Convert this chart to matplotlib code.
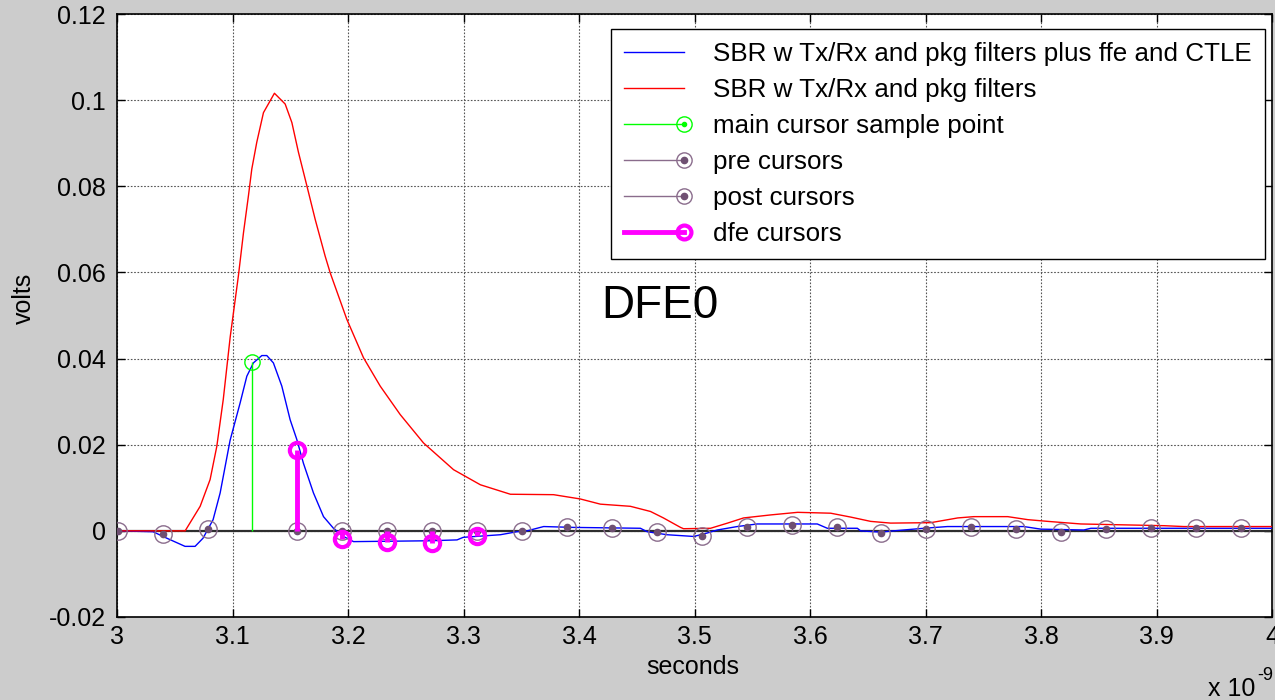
import matplotlib
matplotlib.use('Agg')
import matplotlib.pyplot as plt
from matplotlib.lines import Line2D
from matplotlib.legend_handler import HandlerBase

plt.rcParams['font.family'] = ['Liberation Sans', 'DejaVu Sans']
FS = 18

# ---------------- data (time in ns, values in volts) ----------------
blue_t = [3.0, 3.0312, 3.0431, 3.0589, 3.0676, 3.0745, 3.0832, 3.0893, 3.0979, 3.1066,
          3.1124, 3.1181, 3.1254, 3.1297, 3.1354, 3.1427, 3.1499, 3.1557, 3.1614, 3.1701,
          3.1788, 3.1874, 3.1961, 3.2048, 3.2712, 3.2944, 3.2998, 3.3319, 3.3464, 3.355,
          3.3694, 3.3954, 3.4532, 3.459, 3.4763, 3.4994, 3.511, 3.5197, 3.537, 3.5543,
          3.6063, 3.615, 3.641, 3.6438, 3.6612, 3.6724, 3.6984, 3.719, 3.7851, 3.7998,
          3.8371, 3.8432, 4.0]
blue_v = [0, -0.0002, -0.0017, -0.0036, -0.0036, -0.0017, 0.0026, 0.0088, 0.021, 0.0297,
          0.0359, 0.039, 0.0407, 0.0407, 0.039, 0.0336, 0.0258, 0.0212, 0.0157, 0.0088,
          0.0033, 0.0006, -0.0013, -0.0025, -0.0023, -0.0021, -0.0015, -0.0009, -0.0002, 0.0,
          0.001, 0.0008, 0.0006, -0.0002, -0.0009, -0.0013, -0.0005, 0.0002, 0.001, 0.0016,
          0.0016, 0.0006, 0.0006, 0.0, -0.0003, 0.0, 0.0006, 0.001, 0.001, 0.0004,
          0.0002, 0.0006, 0.0006]

red_t = [3.0, 3.059, 3.072, 3.0806, 3.0864, 3.092, 3.098, 3.1051, 3.1095, 3.1138,
         3.1167, 3.121, 3.1268, 3.1363, 3.1456, 3.1514, 3.1571, 3.1644, 3.1716, 3.1802,
         3.1846, 3.199, 3.2134, 3.2279, 3.2452, 3.2654, 3.2914, 3.3146, 3.3406, 3.378,
         3.4012, 3.4185, 3.4445, 3.4619, 3.4731, 3.4879, 3.4905, 3.5139, 3.5286, 3.5425,
         3.5659, 3.5893, 3.6179, 3.6352, 3.6525, 3.6698, 3.7045, 3.7279, 3.7418, 3.7712,
         3.7886, 3.8059, 3.8345, 3.9064, 3.9237, 4.0]
red_v = [0, 0, 0.0057, 0.0119, 0.0196, 0.0305, 0.045, 0.0592, 0.0692, 0.0778,
         0.084, 0.0902, 0.0971, 0.1016, 0.0991, 0.0948, 0.0879, 0.0801, 0.0723, 0.0638,
         0.0599, 0.0491, 0.0402, 0.0336, 0.027, 0.0204, 0.0142, 0.0107, 0.0085, 0.0084,
         0.0074, 0.0062, 0.0057, 0.0045, 0.003, 0.0008, 0.0005, 0.0006, 0.0018, 0.003,
         0.0037, 0.0043, 0.0041, 0.0032, 0.0022, 0.0018, 0.0019, 0.003, 0.0033, 0.0033,
         0.0026, 0.0022, 0.0016, 0.0012, 0.001, 0.001]

pre_t = [3.0006, 3.0395, 3.0784]
pre_v = [0.0, -0.0008, 0.0005]

main_t = [3.1173]
main_v = [0.0393]

post_t = [3.1562, 3.1951, 3.2340, 3.2729, 3.3118, 3.3507, 3.3896, 3.4285, 3.4674, 3.5063,
          3.5452, 3.5841, 3.6230, 3.6619, 3.7008, 3.7397, 3.7786, 3.8175, 3.8564, 3.8953,
          3.9342, 3.9731]
post_v = [0.0, 0.0, 0.0, 0.0, 0.0, 0.0, 0.0008, 0.0006, -0.0002, -0.0013,
          0.001, 0.0014, 0.001, -0.0004, 0.0005, 0.001, 0.0004, -0.0002, 0.0005, 0.0006,
          0.0006, 0.0006]

dfe_t = [3.1562, 3.1951, 3.2340, 3.2729, 3.3118]
dfe_v = [0.0187, -0.0019, -0.0025, -0.0029, -0.0013]

x_ticks = [3.0, 3.1, 3.2, 3.3, 3.4, 3.5, 3.6, 3.7, 3.8, 3.9, 4.0]
y_ticks = [-0.02, 0.0, 0.02, 0.04, 0.06, 0.08, 0.1, 0.12]

legend_labels = ['SBR w Tx/Rx and pkg filters plus ffe and CTLE',
                 'SBR w Tx/Rx and pkg filters',
                 'main cursor sample point',
                 'pre cursors',
                 'post cursors',
                 'dfe cursors']

# ---------------- styles ----------------
BLUE = '#0000ff'
RED = '#ff0000'
GREEN = '#00ff00'
PURP_EDGE = '#8a6c8c'
PURP_DOT = '#6f5072'
MAG = '#ff00ff'

W, H = 1275, 700
L, R, T, B = 117, 1272, 14, 617

fig = plt.figure(figsize=(W / 100, H / 100), dpi=100, facecolor='#cccccc')
ax = fig.add_axes([L / W, 1 - B / H, (R - L) / W, (B - T) / H])
ax.set_facecolor('white')

ax.set_xlim(3.0, 4.0)
ax.set_ylim(-0.02, 0.12)

ax.axhline(0, color='#2e2e2e', lw=1.6, zorder=2)
ax.plot(blue_t, blue_v, color=BLUE, lw=1.0, zorder=3)
ax.plot(red_t, red_v, color=RED, lw=1.0, zorder=3)

# main cursor
ax.vlines(main_t, 0, main_v, color=GREEN, lw=1.0, zorder=4)
ax.plot(main_t, main_v, 'o', ms=11, mfc='none', mec=GREEN, mew=1.0, zorder=5)

# pre / post cursors
for tt, vv in ((pre_t, pre_v), (post_t, post_v)):
    ax.vlines(tt, 0, vv, color=PURP_DOT, lw=1.0, zorder=4)
    ax.plot(tt, vv, 'o', ms=12.5, mfc='none', mec=PURP_EDGE, mew=1.0, zorder=5, ls='none')
    ax.plot(tt, vv, 'o', ms=4.5, color=PURP_DOT, zorder=5, ls='none')

# dfe cursors
ax.vlines(dfe_t, 0, dfe_v, color=MAG, lw=3.5, zorder=6)
ax.plot(dfe_t, dfe_v, 'o', ms=11, mfc='none', mec=MAG, mew=3.0, zorder=7, ls='none')

ax.text(3.419, 0.0495, 'DFE0', fontsize=33, ha='left', va='baseline', zorder=8)

# ---------------- axes cosmetics ----------------
ax.set_xticks(x_ticks)
ax.set_yticks(y_ticks)
ax.set_xticklabels(['%g' % v for v in x_ticks])
ax.set_yticklabels(['%g' % v for v in y_ticks])
ax.tick_params(direction='in', top=True, right=True, length=6, width=1.0,
               labelsize=FS, pad=8, colors='black')
ax.tick_params(axis='x', pad=6)
ax.grid(True, color='#555555', linestyle=(0, (1.5, 1.5)), lw=0.8, zorder=1)
for s in ax.spines.values():
    s.set_linewidth(1.2)
    s.set_color('black')

fig.text(693 / W, 1 - 667 / H, 'seconds', fontsize=FS, ha='center', va='center')
fig.text(24 / W, 1 - 298 / H, 'volts', fontsize=FS, ha='center', va='center', rotation=90)
fig.text(1208 / W, 1 - 696 / H, 'x 10', fontsize=FS, ha='left', va='baseline')
fig.text(1257 / W, 1 - 680 / H, '-9', fontsize=13, ha='left', va='baseline')


# ---------------- legend ----------------
class Entry:
    def __init__(self, color, lw, marker=None, ms=0, mew=1.0, dot=None, dotms=0):
        self.color, self.lw, self.marker = color, lw, marker
        self.ms, self.mew, self.dot, self.dotms = ms, mew, dot, dotms


class EndMarkerHandler(HandlerBase):
    def create_artists(self, legend, h, xdescent, ydescent, width, height, fontsize, trans):
        y = height / 2.0 - ydescent
        x0, x1 = -xdescent, width - xdescent
        arts = [Line2D([x0, x1], [y, y], color=h.color, lw=h.lw, transform=trans)]
        if h.marker:
            arts.append(Line2D([x1], [y], marker='o', ms=h.ms, mfc='none', mec=h.color,
                               mew=h.mew, ls='none', transform=trans))
        if h.dot:
            arts.append(Line2D([x1], [y], marker='o', ms=h.dotms, color=h.dot,
                               ls='none', transform=trans))
        return arts


entries = [Entry(BLUE, 1.0), Entry(RED, 1.0),
           Entry(GREEN, 1.0, 'o', 11, 1.0, GREEN, 3),
           Entry(PURP_EDGE, 1.0, 'o', 11, 1.0, PURP_DOT, 4.5),
           Entry(PURP_EDGE, 1.0, 'o', 11, 1.0, PURP_DOT, 4.5),
           Entry(MAG, 3.5, 'o', 10, 3.0)]

leg = ax.legend(entries, legend_labels, handler_map={Entry: EndMarkerHandler()},
                loc='upper right', bbox_to_anchor=((1265 - L) / (R - L), 1 - (29 - T) / (B - T)),
                borderaxespad=0, prop={'size': 18.7}, frameon=True, fancybox=False,
                edgecolor='black', framealpha=1, handlelength=2.3, handletextpad=1.15,
                labelspacing=0.46, borderpad=0.5)
leg.get_frame().set_linewidth(1.0)
leg.set_zorder(10)

fig.savefig('out.png', dpi=100, facecolor=fig.get_facecolor())
